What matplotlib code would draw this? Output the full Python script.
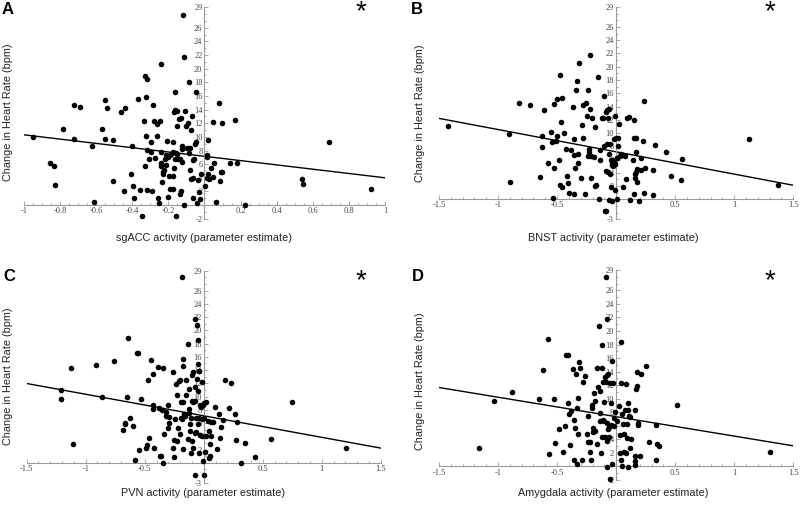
import numpy as np
import matplotlib
matplotlib.use('Agg')
import matplotlib.pyplot as plt
from matplotlib.ticker import MultipleLocator

plt.rcParams['axes.unicode_minus'] = False

# (activity, change in heart rate)
a_pts = [(-0.948,10.0),(-0.856,6.1),(-0.834,5.76),(-0.828,2.9),(-0.782,11.1),(-0.723,14.7),(-0.723,9.7),
         (-0.688,14.4),(-0.623,8.7),(-0.610,0.5),(-0.567,11.2),(-0.553,15.4),(-0.551,9.7),(-0.540,14.3),
         (-0.505,9.5),(-0.505,3.6),(-0.460,13.6),(-0.446,2.0),(-0.442,14.3),(-0.409,4.5),(-0.400,8.7),
         (-0.394,2.8),(-0.391,1.0),(-0.370,15.5),(-0.359,2.2),(-0.348,-1.6),(-0.332,18.9),(-0.320,18.5),
         (-0.333,12.4),(-0.330,5.76),(-0.324,15.8),(-0.324,10.1),(-0.320,8.1),(-0.317,2.2),(-0.306,6.8),
         (-0.296,7.8),(-0.293,2.1),(-0.298,9.3),(-0.285,14.6),(-0.282,12.4),(-0.272,6.9),(-0.265,11.9),
         (-0.261,10.2),(-0.257,1.1),(-0.254,0.3),(-0.247,12.4),(-0.243,20.7),(-0.243,7.8),(-0.243,6.2),
         (-0.239,5.7),(-0.236,3.4),(-0.232,4.9),(-0.228,4.6),(-0.222,5.1),(-0.220,6.8),(-0.215,7.4),
         (-0.213,5.9),(-0.210,9.4),(-0.204,7.1),(-0.202,1.2),(-0.199,4.3),(-0.193,7.3),(-0.191,2.3),
         (-0.188,7.5),(-0.176,7.8),(-0.174,2.3),(-0.173,9.3),(-0.173,4.3),(-0.169,5.4),(-0.167,13.7),
         (-0.165,16.6),(-0.163,14.0),(-0.165,6.7),(-0.160,7.6),(-0.158,-1.6),(-0.154,13.8),(-0.151,11.6),
         (-0.151,7.5),(-0.145,6.8),(-0.141,12.6),(-0.136,6.8),(-0.134,1.6),(-0.130,2.0),(-0.128,12.7),
         (-0.127,6.3),(-0.125,8.6),(-0.125,8.2),(-0.117,27.9),(-0.115,21.7),(-0.114,0.05),(-0.108,13.8),
         (-0.103,11.6),(-0.099,8.4),(-0.091,12.1),(-0.088,7.6),(-0.086,18.0),(-0.082,8.4),(-0.080,5.2),
         (-0.077,11.0),(-0.075,3.8),(-0.068,13.1),(-0.066,3.9),(-0.062,6.6),(-0.062,1.1),(-0.059,6.8),
         (-0.053,8.9),(-0.049,16.6),(-0.047,9.3),(-0.044,0.3),(-0.036,3.7),(-0.029,1.9),(-0.023,0.9),
         (-0.018,4.6),(0.001,2.8),(0.012,7.1),(0.014,7.4),(0.014,4.0),(0.019,9.5),(0.019,4.5),(0.027,3.8),
         (0.038,5.5),(0.045,4.1),(0.047,12.2),(0.054,6.1),(0.062,0.4),(0.082,15.0),(0.088,3.5),(0.093,4.8),
         (0.095,12.0),(0.097,4.9),(0.143,6.2),(0.169,12.5),(0.182,6.1),(0.226,0.0),(0.542,3.8),(0.548,3.1),
         (0.689,9.2),(0.922,2.3)]

b_pts = [(-1.421,11.0),(-0.910,9.85),(-0.899,2.6),(-0.825,14.6),(-0.732,14.2),(-0.648,3.4),(-0.631,7.9),
         (-0.628,9.5),(-0.611,13.4),(-0.574,5.5),(-0.555,10.1),(-0.546,8.7),(-0.532,0.25),(-0.529,4.8),
         (-0.526,14.4),(-0.509,8.8),(-0.504,15.2),(-0.501,9.6),(-0.484,6.0),(-0.473,18.8),(-0.473,2.1),
         (-0.464,11.7),(-0.461,15.3),(-0.456,1.9),(-0.439,10.0),(-0.425,7.6),(-0.419,3.6),(-0.405,2.5),
         (-0.400,0.9),(-0.385,7.4),(-0.366,13.9),(-0.360,9.1),(-0.357,6.7),(-0.353,0.8),(-0.349,4.8),
         (-0.338,16.5),(-0.335,17.9),(-0.326,5.5),(-0.321,6.8),(-0.318,20.6),(-0.299,3.3),(-0.293,11.2),
         (-0.279,9.2),(-0.279,14.3),(-0.262,0.8),(-0.257,14.5),(-0.250,12.5),(-0.236,16.5),(-0.236,6.6),
         (-0.230,7.6),(-0.228,7.2),(-0.225,21.7),(-0.219,13.6),(-0.216,3.2),(-0.211,6.5),(-0.202,12.3),
         (-0.188,6.4),(-0.180,10.9),(-0.180,2.0),(-0.171,2.1),(-0.154,18.4),(-0.148,0.1),(-0.140,7.4),
         (-0.134,5.9),(-0.120,12.3),(-0.111,12.3),(-0.103,8.0),(-0.100,15.6),(-0.097,-1.8),(-0.085,-1.8),
         (-0.089,13.2),(-0.086,4.3),(-0.080,8.3),(-0.075,13.4),(-0.069,12.3),(-0.066,4.1),(-0.060,6.8),
         (-0.060,-0.15),(-0.058,13.7),(-0.052,8.3),(-0.049,3.8),(-0.047,1.9),(-0.041,5.9),(-0.038,5.4),
         (-0.035,5.2),(-0.032,-0.25),(-0.030,5.9),(-0.024,5.1),(-0.021,5.6),(-0.018,9.1),(-0.013,5.4),
         (-0.010,1.4),(-0.007,12.6),(-0.004,9.3),(0.004,6.2),(0.007,0.1),(0.010,6.3),(0.016,8.1),(0.018,9.2),
         (0.021,11.4),(0.032,6.6),(0.041,6.8),(0.055,1.9),(0.075,6.5),(0.080,3.1),(0.092,12.2),(0.109,12.4),
         (0.114,-0.1),(0.142,6.0),(0.151,9.3),(0.154,11.9),(0.154,0.8),(0.157,3.8),(0.159,3.3),(0.165,7.1),
         (0.168,9.2),(0.171,4.1),(0.174,2.6),(0.179,4.6),(0.196,-0.3),(0.207,6.3),(0.207,4.4),(0.230,8.8),
         (0.236,14.8),(0.239,0.9),(0.244,4.7),(0.309,4.5),(0.312,0.7),(0.329,8.2),(0.419,7.2),(0.461,3.6),
         (0.546,2.9),(0.558,6.1),(1.125,9.1),(1.368,2.2)]

c_pts = [(-1.212,11.05),(-1.206,9.7),(-1.127,14.3),(-1.110,2.8),(-0.912,14.7),(-0.859,9.9),(-0.763,15.3),
         (-0.684,4.9),(-0.669,5.8),(-0.664,6.0),(-0.653,10.0),(-0.644,18.8),(-0.627,6.8),(-0.599,5.6),
         (-0.582,0.4),(-0.568,16.6),(-0.559,16.6),(-0.551,1.9),(-0.534,9.7),(-0.492,2.2),(-0.480,2.7),
         (-0.469,12.5),(-0.463,3.75),(-0.444,15.5),(-0.432,13.4),(-0.429,8.7),(-0.429,8.1),(-0.424,2.2),
         (-0.390,14.5),(-0.379,8.3),(-0.373,1.1),(-0.359,1.1),(-0.353,8.0),(-0.345,-0.1),(-0.342,14.3),
         (-0.333,4.4),(-0.319,7.7),(-0.316,7.0),(-0.305,5.2),(-0.299,8.8),(-0.294,6.9),(-0.291,6.0),
         (-0.263,2.2),(-0.257,13.7),(-0.251,3.5),(-0.249,0.9),(-0.240,6.6),(-0.234,11.9),(-0.229,10.2),
         (-0.226,3.35),(-0.220,5.2),(-0.212,12.3),(-0.203,12.5),(-0.198,4.4),(-0.195,6.8),(-0.189,9.2),
         (-0.186,6.6),(-0.184,28.0),(-0.178,9.2),(-0.178,2.1),(-0.175,14.6),(-0.172,15.7),(-0.167,7.4),
         (-0.158,7.1),(-0.153,12.5),(-0.153,10.2),(-0.136,3.6),(-0.130,18.0),(-0.127,11.2),(-0.124,8.1),
         (-0.121,7.5),(-0.116,4.8),(-0.113,5.8),(-0.110,1.5),(-0.107,6.7),(-0.099,3.25),(-0.096,13.3),
         (-0.096,9.4),(-0.090,2.2),(-0.088,13.7),(-0.088,9.2),(-0.076,-1.8),(-0.076,21.7),(-0.076,9.4),
         (-0.073,4.5),(-0.071,11.5),(-0.062,4.6),(-0.062,6.7),(-0.056,12.7),(-0.054,20.8),(-0.051,5.9),
         (-0.048,14.9),(-0.045,10.9),(-0.045,18.5),(-0.042,13.8),(-0.042,6.7),(-0.040,1.5),(-0.037,13.9),
         (-0.031,8.7),(-0.028,4.2),(-0.023,8.4),(-0.017,4.0),(-0.014,12.2),(-0.011,6.6),(-0.008,8.8),
         (-0.003,0.25),(0.003,-1.8),(0.006,9.1),(0.006,6.8),(0.011,1.6),(0.017,9.2),(0.023,4.1),(0.034,6.3),
         (0.045,4.8),(0.048,0.8),(0.051,2.8),(0.054,1.0),(0.059,4.0),(0.062,6.1),(0.082,6.1),(0.096,8.4),
         (0.113,2.1),(0.127,7.3),(0.136,3.8),(0.147,5.4),(0.161,6.4),(0.181,12.5),(0.212,8.3),(0.234,12.0),
         (0.266,7.3),(0.274,3.45),(0.280,6.1),(0.319,0.0),(0.353,3.0),(0.438,0.9),(0.568,3.65),(0.751,9.2),
         (1.209,2.3)]

d_pts = [(-1.161,2.7),(-1.034,9.65),(-0.879,11.0),(-0.653,9.95),(-0.622,14.3),(-0.580,18.8),(-0.569,1.9),
         (-0.529,9.9),(-0.515,3.4),(-0.487,5.6),(-0.450,2.1),(-0.433,6.0),(-0.428,16.5),(-0.405,16.5),
         (-0.408,9.4),(-0.399,7.7),(-0.394,3.2),(-0.386,8.2),(-0.369,14.4),(-0.360,1.0),(-0.354,6.9),
         (-0.346,5.7),(-0.343,13.6),(-0.332,0.4),(-0.329,8.6),(-0.327,4.85),(-0.324,10.1),(-0.318,15.4),
         (-0.309,14.6),(-0.286,0.9),(-0.281,12.5),(-0.261,13.4),(-0.250,4.75),(-0.241,7.4),(-0.238,3.6),
         (-0.224,2.15),(-0.218,3.6),(-0.210,1.0),(-0.207,8.7),(-0.202,9.1),(-0.196,5.7),(-0.193,5.1),
         (-0.188,10.9),(-0.182,9.6),(-0.179,5.2),(-0.162,14.5),(-0.159,3.3),(-0.151,11.7),(-0.145,20.7),
         (-0.140,7.9),(-0.137,6.7),(-0.134,11.2),(-0.126,2.0),(-0.123,14.6),(-0.120,17.9),(-0.117,4.4),
         (-0.114,6.9),(-0.109,12.5),(-0.106,9.55),(-0.100,6.7),(-0.095,13.2),(-0.092,4.4),(-0.086,27.9),
         (-0.086,12.4),(-0.080,13.5),(-0.080,6.4),(-0.078,21.7),(-0.078,3.7),(-0.075,-0.1),(-0.072,5.6),
         (-0.066,13.7),(-0.061,5.8),(-0.058,4.4),(-0.052,-1.8),(-0.049,12.3),(-0.044,6.1),(-0.041,9.3),
         (-0.035,15.6),(-0.032,0.3),(-0.027,12.3),(-0.021,5.9),(-0.016,7.1),(-0.007,8.0),(0.004,6.7),
         (0.021,8.9),(0.030,2.0),(0.035,4.65),(0.038,18.4),(0.041,12.35),(0.044,0.9),(0.047,0.0),(0.052,7.7),
         (0.055,6.3),(0.066,2.15),(0.069,4.75),(0.075,8.3),(0.080,2.05),(0.086,12.2),(0.089,6.3),(0.095,4.2),
         (0.097,8.4),(0.100,9.3),(0.103,-0.15),(0.106,7.45),(0.117,7.35),(0.117,2.75),(0.125,4.1),(0.157,8.4),
         (0.157,1.6),(0.157,0.8),(0.157,0.15),(0.171,11.4),(0.176,11.9),(0.176,13.9),(0.182,6.4),(0.185,6.1),
         (0.199,1.5),(0.213,13.6),(0.255,14.9),(0.275,3.6),(0.334,6.1),(0.340,1.0),(0.348,3.3),(0.365,3.0),
         (0.512,9.1),(1.302,2.2)]

# regression line: intercept, slope
fits = [(7.15, -3.15), (7.17, -3.36), (7.10, -3.25), (7.35, -2.87)]

xlabels = ['sgACC activity (parameter estimate)', 'BNST activity (parameter estimate)',
           'PVN activity (parameter estimate)', 'Amygdala activity (parameter estimate)']
letters = ['A', 'B', 'C', 'D']
xlims = [(-1, 1), (-1.5, 1.5), (-1.5, 1.5), (-1.5, 1.5)]
ylims = [(-2, 29), (-3, 29), (-3, 29), (-2, 29)]
xticks_a = [-1, -0.8, -0.6, -0.4, -0.2, 0.2, 0.4, 0.6, 0.8, 1]
xticks_b = [-1.5, -1, -0.5, 0.5, 1, 1.5]
yticks_mid = [2, 4, 6, 8, 10, 12, 14, 16, 18, 20, 22, 24, 26]

W, H = 800, 508
# axes boxes in pixels: left, top, right, bottom
boxes = [(24, 7.3, 385, 218.7), (439, 7, 793.3, 219.3),
         (26.7, 270.7, 380.7, 482.7), (439, 270, 793.3, 480)]
xlab_pos = [(204, 238), (613, 238), (203, 493), (613, 493)]
ylab_pos = [(8, 112), (420, 113), (8, 376), (420, 381)]
letter_pos = [(2, 2), (411, 2), (3, 269), (412, 269)]
star_pos = [(361, 12), (770, 12), (361, 281), (770, 281)]

fig = plt.figure(figsize=(8, 5.08), dpi=100)
all_pts = [a_pts, b_pts, c_pts, d_pts]

for i in range(4):
    l, t, r, b = boxes[i]
    ax = fig.add_axes([l / W, 1 - b / H, (r - l) / W, (b - t) / H])
    x = [p[0] for p in all_pts[i]]
    y = [p[1] for p in all_pts[i]]
    ax.scatter(x, y, s=16, c='black', linewidths=0, zorder=3, clip_on=False)
    xs = np.array(xlims[i])
    ax.plot(xs, fits[i][0] + fits[i][1] * xs, color='black', lw=1.0, zorder=2)

    ax.set_xlim(xlims[i])
    ax.set_ylim(ylims[i])
    for s in ['top', 'right']:
        ax.spines[s].set_visible(False)
    ax.spines['left'].set_position(('data', 0))
    ax.spines['bottom'].set_position(('data', 0))
    for s in ['left', 'bottom']:
        ax.spines[s].set_color('#9a9a9a')
        ax.spines[s].set_linewidth(0.8)

    xt = xticks_a if i == 0 else xticks_b
    ax.set_xticks(xt)
    ax.set_xticklabels(['%g' % v for v in xt])
    ax.xaxis.set_minor_locator(MultipleLocator(0.05 if i == 0 else 0.1))
    yt = [ylims[i][0]] + yticks_mid + [29]
    ax.set_yticks(yt)
    ax.set_yticklabels(['%g' % v for v in yt])
    ax.yaxis.set_minor_locator(MultipleLocator(1))
    ax.tick_params(which='both', direction='in', color='#9a9a9a', width=0.6,
                   labelsize=6, labelcolor='#444444', pad=1.5)
    ax.tick_params(which='major', length=3)
    ax.tick_params(which='minor', length=1.5)
    for lab in ax.get_xticklabels() + ax.get_yticklabels():
        lab.set_family('Liberation Serif')

    fig.text(xlab_pos[i][0] / W, 1 - xlab_pos[i][1] / H, xlabels[i], ha='center', va='center',
             fontsize=7.8, family='Liberation Sans', color='#222222')
    fig.text(ylab_pos[i][0] / W, 1 - ylab_pos[i][1] / H, 'Change in Heart Rate (bpm)', rotation=90,
             ha='center', va='center', fontsize=7.8, family='Liberation Sans', color='#222222')
    fig.text(letter_pos[i][0] / W, 1 - letter_pos[i][1] / H, letters[i], ha='left', va='top',
             fontsize=12, fontweight='bold', family='Liberation Sans')
    fig.text(star_pos[i][0] / W, 1 - star_pos[i][1] / H, '*', ha='center', va='center',
             fontsize=20, family='Liberation Sans')

fig.savefig('out.png', dpi=100)
